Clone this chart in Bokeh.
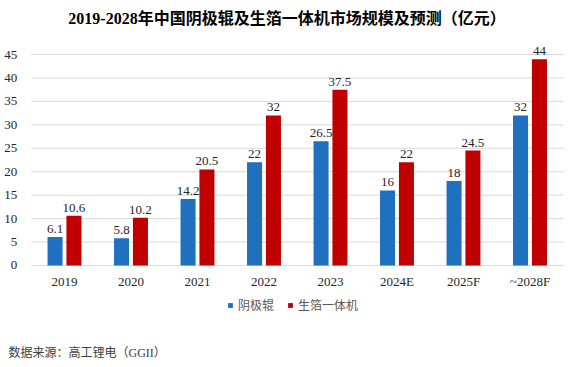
from bokeh.plotting import figure
from bokeh.models import ColumnDataSource, Range1d, Legend, LegendItem, Label, FixedTicker
from bokeh.core.properties import value
from bokeh.embed import file_html
from bokeh.resources import INLINE

years = ["2019", "2020", "2021", "2022", "2023", "2024E", "2025F", "~2028F"]
cathode_roller = [6.1, 5.8, 14.2, 22, 26.5, 16, 18, 32]
foil_machine = [10.6, 10.2, 20.5, 32, 37.5, 22, 24.5, 44]
cathode_labels = ["6.1", "5.8", "14.2", "22", "26.5", "16", "18", "32"]
foil_labels = ["10.6", "10.2", "20.5", "32", "37.5", "22", "24.5", "44"]
y_ticks = [0, 5, 10, 15, 20, 25, 30, 35, 40, 45]

BLUE = "#1F70BF"
RED = "#C00000"
GRID = "#D9D9D9"
SERIF = "Liberation Serif, Noto Sans CJK SC"
W, H = 569, 367

idx = list(range(len(years)))
off = 0.142
bw = 0.226
src = ColumnDataSource(dict(
    xa=[i - off for i in idx], xb=[i + off for i in idx],
    a=cathode_roller, b=foil_machine, al=cathode_labels, bl=foil_labels))

p = figure(x_range=Range1d(-0.9624, 7.594), y_range=Range1d(-21.754, 56.517),
           width=W, height=H, output_backend="svg", toolbar_location=None,
           min_border_left=0, min_border_right=0, min_border_top=0, min_border_bottom=0)
p.outline_line_color = None
p.background_fill_color = "white"
p.border_fill_color = "white"
p.xgrid.visible = False
p.ygrid.visible = False

# horizontal gridlines spanning the category area
p.segment(x0=[-0.5] * len(y_ticks), x1=[len(years) - 0.5] * len(y_ticks),
          y0=y_ticks, y1=y_ticks, line_color=GRID, line_width=1)

r1 = p.vbar(x="xa", top="a", width=bw, source=src, fill_color=BLUE, line_color=None)
r2 = p.vbar(x="xb", top="b", width=bw, source=src, fill_color=RED, line_color=None)

for xcol, ycol, tcol in (("xa", "a", "al"), ("xb", "b", "bl")):
    p.text(x=xcol, y=ycol, text=tcol, source=src,
           text_align="center", text_baseline="alphabetic", y_offset=-8,
           text_font=value("Liberation Serif"), text_font_size="13px",
           text_color="#262626")

p.xaxis.ticker = FixedTicker(ticks=idx)
p.xaxis.major_label_overrides = {i: y for i, y in zip(idx, years)}
p.xaxis.fixed_location = 0
p.yaxis.ticker = FixedTicker(ticks=y_ticks)
p.yaxis.fixed_location = -0.5
for ax in (p.xaxis, p.yaxis):
    ax.axis_line_color = None
    ax.major_tick_line_color = None
    ax.minor_tick_line_color = None
    ax.major_label_text_font = "Liberation Serif"
    ax.major_label_text_font_size = "13px"
    ax.major_label_text_color = "#262626"
p.yaxis.major_label_standoff = 8
p.xaxis.major_label_standoff = 3

legend = Legend(items=[LegendItem(label="阴极辊", renderers=[r1]),
                       LegendItem(label="生箔一体机", renderers=[r2])],
                orientation="horizontal", location=(227, 54),
                glyph_width=6, glyph_height=6, label_height=14, label_standoff=5,
                spacing=13, label_text_font="Noto Sans CJK SC",
                label_text_font_size="12px", label_text_baseline="middle",
                label_text_color="#595959", background_fill_alpha=0,
                border_line_color=None, padding=0, margin=0)
p.add_layout(legend, "center")

title = Label(x=286.5, y=H - 17.5, x_units="screen", y_units="screen",
              text="2019-2028年中国阴极辊及生箔一体机市场规模及预测（亿元）",
              text_font=SERIF, text_font_style="bold", text_font_size="16px",
              text_color="#000000", text_align="center", text_baseline="middle")
p.add_layout(title)

note = Label(x=8, y=H - 352, x_units="screen", y_units="screen",
             text="数据来源：高工锂电（GGII）",
             text_font=SERIF, text_font_size="12px",
             text_color="#404040", text_align="left", text_baseline="middle")
p.add_layout(note)

open("out.html", "w").write(file_html(p, INLINE))
